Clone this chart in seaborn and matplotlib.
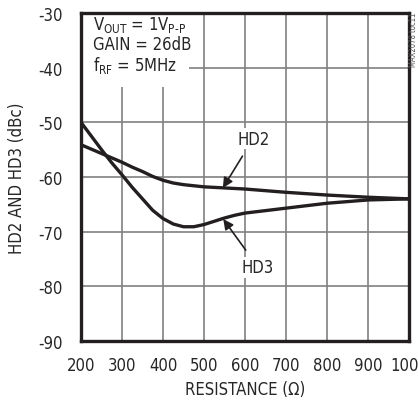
import matplotlib
matplotlib.use("Agg")
import matplotlib.pyplot as plt
import seaborn as sns
import pandas as pd

resistance = [200, 250, 275, 300, 325, 350, 375, 400, 425, 450, 475, 500, 525, 550, 575, 600, 700, 800, 900, 1000]
hd2 = [-54.1, -55.7, -56.5, -57.3, -58.2, -59.0, -59.9, -60.6, -61.1, -61.4, -61.6, -61.8, -61.9, -62.0, -62.1, -62.2, -62.8, -63.3, -63.7, -64.0]
hd3 = [-50.0, -55.0, -57.4, -59.6, -61.9, -64.0, -66.1, -67.6, -68.6, -69.1, -69.1, -68.7, -68.1, -67.5, -67.0, -66.6, -65.7, -64.8, -64.2, -64.0]
x_ticks = [200, 300, 400, 500, 600, 700, 800, 900, 1000]
y_ticks = [-90, -80, -70, -60, -50, -40, -30]

sns.set_style("white")
plt.rcParams['font.family'] = ['DejaVu Sans']
plt.rcParams['font.stretch'] = 'condensed'
plt.rcParams['mathtext.fontset'] = 'custom'
plt.rcParams['mathtext.rm'] = 'DejaVu Sans:stretch=condensed'

df = pd.DataFrame({
    "R": resistance * 2,
    "val": hd2 + hd3,
    "series": ["HD2"] * len(hd2) + ["HD3"] * len(hd3),
})

fig = plt.figure(figsize=(4.18, 4.02), dpi=100)
ax = fig.add_axes([81/418, 1 - 342/402, 328/418, 328/402])

sns.lineplot(data=df, x="R", y="val", hue="series", palette={"HD2": "#231f20", "HD3": "#231f20"},
             linewidth=2.4, legend=False, ax=ax, zorder=3)
for ln in ax.lines:
    ln.set_solid_joinstyle("round")
    ln.set_solid_capstyle("round")

FS = 12
ax.set_xlim(200, 1000)
ax.set_ylim(-90, -30)
ax.set_xticks(x_ticks)
ax.set_yticks(y_ticks)
ax.set_xticklabels([str(v) for v in x_ticks], fontsize=FS)
ax.set_yticklabels([str(v) for v in y_ticks], fontsize=FS)
ax.tick_params(axis='x', length=0, pad=11)
ax.tick_params(axis='y', length=0, pad=13)
ax.grid(True, color="#808080", linewidth=1.2, zorder=1)
ax.set_axisbelow(True)
for s in ax.spines.values():
    s.set_linewidth(2.4)
    s.set_color("#231f20")
    s.set_zorder(5)

ax.set_xlabel("RESISTANCE (Ω)", fontsize=FS, labelpad=4)
ax.set_ylabel("HD2 AND HD3 (dBc)", fontsize=FS, labelpad=9)

# white box behind conditions text
ax.add_patch(plt.Rectangle((200, -43.5), 263, 13.5, facecolor="white", edgecolor="none", zorder=2))
ax.text(230, -32.0, r"$\mathregular{V_{OUT}}$ = 1$\mathregular{V_{P\text{-}P}}$", fontsize=FS, va="center", ha="left", zorder=4)
ax.text(230, -35.6, "GAIN = 26dB", fontsize=FS, va="center", ha="left", zorder=4)
ax.text(230, -39.5, r"$\mathregular{f_{RF}}$ = 5MHz", fontsize=FS, va="center", ha="left", zorder=4)

ax.annotate("HD2", xy=(546, -62.0), xytext=(620, -53.0), fontsize=FS, ha="center", va="center",
            bbox=dict(facecolor="white", edgecolor="none", pad=1),
            arrowprops=dict(arrowstyle="-|>", color="#231f20", lw=1.2, mutation_scale=15,
                            shrinkA=6, shrinkB=0), zorder=4)
ax.annotate("HD3", xy=(547, -67.7), xytext=(632, -76.5), fontsize=FS, ha="center", va="center",
            bbox=dict(facecolor="white", edgecolor="none", pad=1),
            arrowprops=dict(arrowstyle="-|>", color="#231f20", lw=1.2, mutation_scale=15,
                            shrinkA=6, shrinkB=0), zorder=4)

fig.text(414/418, 1 - 40/402, "MAX2078 toc11", rotation=90, fontsize=5.5, color="#555555",
         ha="center", va="center")

fig.savefig("out.png", dpi=100)
